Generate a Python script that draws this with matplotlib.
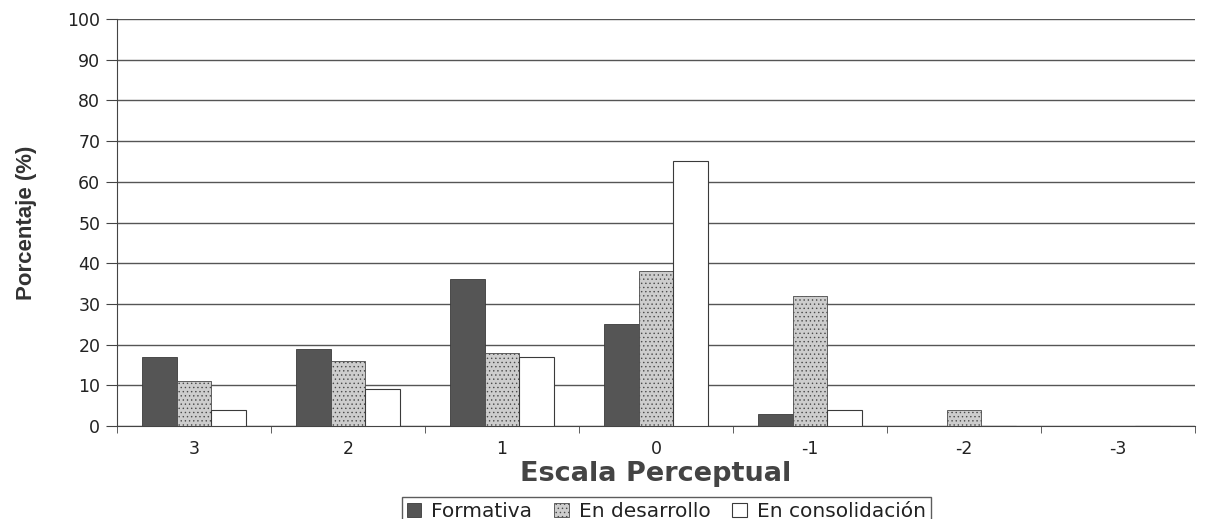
import matplotlib
matplotlib.use("Agg")
import matplotlib.pyplot as plt
import numpy as np

categorias = ["3", "2", "1", "0", "-1", "-2", "-3"]
formativa = [17, 19, 36, 25, 3, 0, 0]
en_desarrollo = [11, 16, 18, 38, 32, 4, 0]
en_consolidacion = [4, 9, 17, 65, 4, 0, 0]
series = ["Formativa", "En desarrollo", "En consolidación"]

plt.rcParams['font.family'] = ['DejaVu Sans']
plt.rcParams['hatch.color'] = '#8a8a8a'
plt.rcParams['hatch.linewidth'] = 0.5


def main():
    fig = plt.figure(figsize=(12.05, 5.19), dpi=100)
    ax = fig.add_axes([117 / 1205, 1 - 426 / 519, (1195 - 117) / 1205, (426 - 19) / 519])

    x = np.arange(len(categorias))
    w = 0.227
    ax.bar(x - w, formativa, w, color="#555555", edgecolor="#3a3a3a", linewidth=0.6,
           label=series[0], zorder=3)
    ax.bar(x, en_desarrollo, w, color="#cdcdcd", edgecolor="#4a4a4a", linewidth=0.6,
           hatch="....", label=series[1], zorder=3)
    ax.bar(x + w, en_consolidacion, w, color="white", edgecolor="#3a3a3a", linewidth=0.8,
           label=series[2], zorder=3)

    ax.set_xlim(-0.5, len(categorias) - 0.5)
    ax.set_ylim(0, 100)
    ax.set_yticks(range(0, 101, 10))
    ax.yaxis.grid(True, color="#555555", linewidth=1.0, zorder=0)
    ax.set_xticks(x)
    ax.set_xticklabels(categorias, fontsize=12.5, color="#222222")
    ax.set_xticks(np.arange(len(categorias) + 1) - 0.5, minor=True)
    ax.tick_params(axis="x", which="major", length=0, pad=10)
    ax.tick_params(axis="x", which="minor", length=5, color="#444444")
    ax.tick_params(axis="y", length=8, color="#444444", labelsize=12.5,
                   labelcolor="#222222", pad=4)

    for s in ["top", "right"]:
        ax.spines[s].set_visible(False)
    ax.spines["left"].set_color("#444444")
    ax.spines["bottom"].set_color("#444444")

    ax.set_ylabel("Porcentaje (%)", fontsize=16, fontweight="bold",
                  family=["Liberation Sans Narrow", "Liberation Sans"], color="#333333",
                  labelpad=22)
    ax.set_xlabel("Escala Perceptual", fontsize=19.5, fontweight="bold", color="#444444",
                  labelpad=2)

    leg = fig.legend(loc="lower center", bbox_to_anchor=(0.553, -0.014), ncol=3,
                     fontsize=14.5, frameon=True, fancybox=False, edgecolor="#333333",
                     handlelength=0.7, handleheight=0.7, handletextpad=0.5,
                     columnspacing=1.1, borderpad=0.25, borderaxespad=0.0)
    leg.get_frame().set_linewidth(1.0)
    for t in leg.get_texts():
        t.set_color("#222222")

    fig.savefig("out.png", dpi=100)


if __name__ == '__main__':
    main()
